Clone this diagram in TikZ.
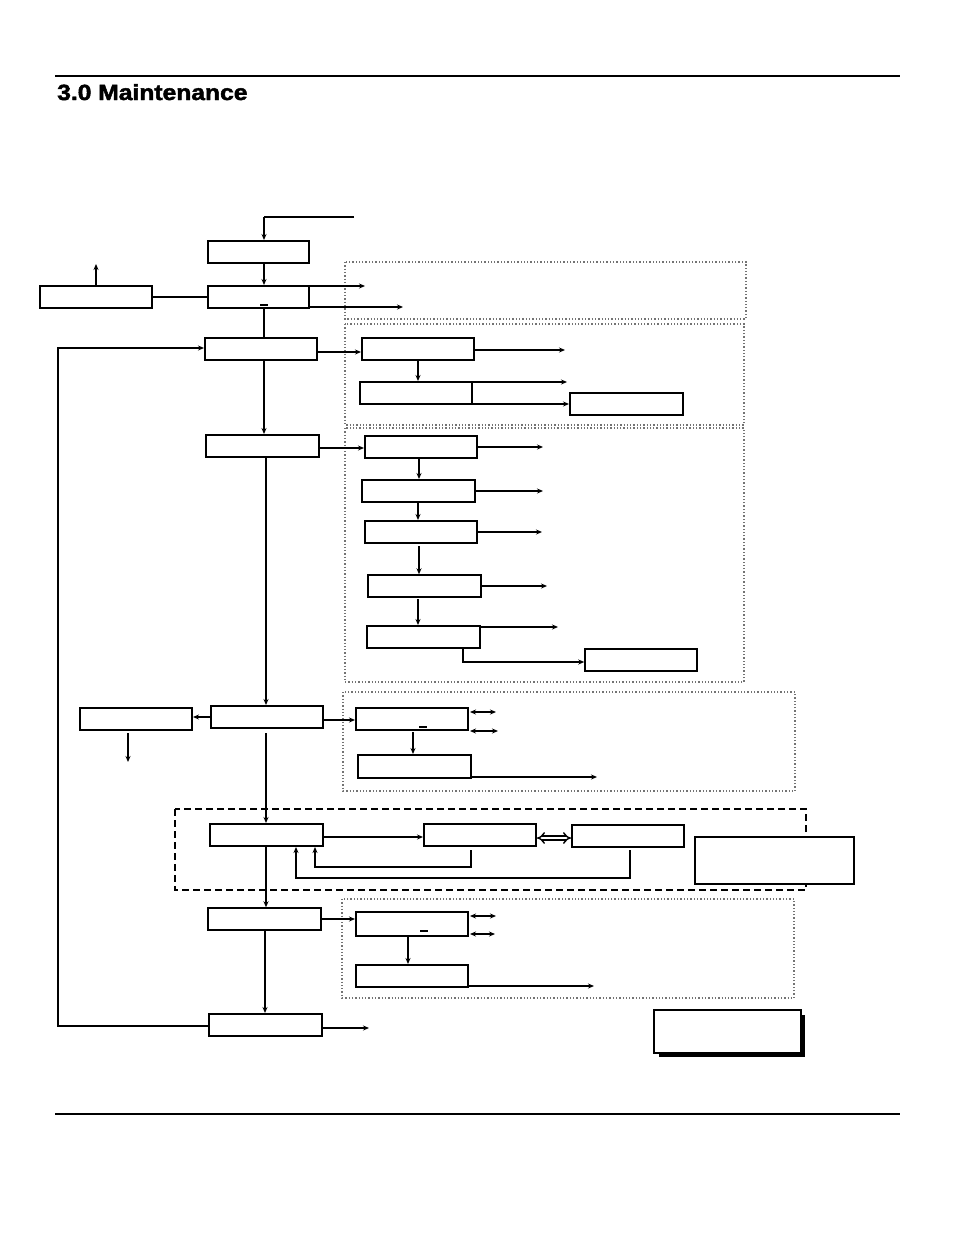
\documentclass[tikz,border=0pt]{standalone}
\usepackage{fontspec}
\setmainfont{Liberation Sans}
\newfontfamily\titlefont[FakeBold=2]{Liberation Sans Bold}
\usetikzlibrary{arrows.meta,fit}
\tikzset{
  box/.style={draw, line width=2pt, inner sep=0pt, fill=white},
  thinbox/.style={draw, line width=1.5pt, inner sep=0pt, fill=white},
  arr/.style={-{Stealth[length=6pt,width=5pt]}, line width=1.4pt},
  darr/.style={{Stealth[length=6pt,width=5pt]}-{Stealth[length=6pt,width=5pt]}, line width=1.4pt},
  plain/.style={line width=1.4pt},
  dotbox/.style={draw=black!55, dotted, line width=1.3pt},
  dashbox/.style={draw, dash pattern=on 7pt off 4pt, line width=1.6pt},
  rule/.style={line width=1.3pt},
}
\begin{document}
\begin{tikzpicture}[x=1pt,y=-1pt]
\useasboundingbox (0,0) rectangle (954,1235);
% header / footer rules
\draw[rule] (55,76) -- (900,76);
\draw[rule] (55,1114) -- (900,1114);
\node[anchor=base west, inner sep=0pt] (title) at (57,100)
  {\scalebox{1.12}[1]{\fontsize{22}{26}\selectfont\titlefont 3.0 Maintenance}};

% dotted / dashed group frames
\draw[dotbox] (345,262) rectangle (746,319);
\draw[dotbox] (345,324) rectangle (744,425);
\draw[dotbox] (345,428) rectangle (744,682);
\draw[dotbox] (343,692) rectangle (795,791);
\draw[dashbox] (175,809) rectangle (806,890);
\draw[dotbox] (342,899) rectangle (794,998);

% boxes
\node[box, fit={(208,241)(309,263)}] (A) {};
\node[box, fit={(208,286)(309,308)}] (B) {};
\node[box, fit={(40,286)(152,308)}] (L1) {};
\node[box, fit={(205,338)(317,360)}] (C) {};
\node[box, fit={(362,338)(474,360)}] (D1) {};
\node[box, fit={(360,382)(472,404)}] (D2) {};
\node[box, fit={(570,393)(683,415)}] (D3) {};
\node[box, fit={(206,435)(319,457)}] (E) {};
\node[box, fit={(365,436)(477,458)}] (F1) {};
\node[box, fit={(362,480)(475,502)}] (F2) {};
\node[box, fit={(365,521)(477,543)}] (F3) {};
\node[thinbox, fit={(368,575)(481,597)}] (F4) {};
\node[box, fit={(367,626)(480,648)}] (F5) {};
\node[thinbox, fit={(585,649)(697,671)}] (F6) {};
\node[box, fit={(211,706)(323,728)}] (G) {};
\node[box, fit={(80,708)(192,730)}] (L2) {};
\node[box, fit={(356,708)(468,730)}] (H1) {};
\node[box, fit={(358,755)(471,778)}] (H2) {};
\node[box, fit={(210,824)(323,846)}] (I) {};
\node[box, fit={(424,824)(536,846)}] (J) {};
\node[box, fit={(572,825)(684,847)}] (K) {};
\node[box, fit={(695,837)(854,884)}] (M) {};
\node[thinbox, fit={(208,908)(321,930)}] (N) {};
\node[box, fit={(356,912)(468,936)}] (O1) {};
\node[box, fit={(356,965)(468,987)}] (O2) {};
\node[box, fit={(209,1014)(322,1036)}] (P) {};
\fill (659,1015) rectangle (805,1057);
\node[box, fit={(654,1010)(801,1053)}] (Q) {};

% small underscores inside boxes
\draw[line width=1.4pt] (260,305) -- (268,305);
\draw[line width=1.4pt] (419,727) -- (427,727);
\draw[line width=1.4pt] (420,931) -- (428,931);

% free ends
\coordinate (in) at (354,217);
\coordinate (l1up) at (96,264);
\coordinate (b1) at (365,286);
\coordinate (b2) at (403,307);
\coordinate (d1r) at (565,350);
\coordinate (d2r) at (567,382);
\coordinate (f1r) at (543,447);
\coordinate (f2r) at (543,491);
\coordinate (f3r) at (542,532);
\coordinate (f4r) at (547,586);
\coordinate (f5r) at (558,627);
\coordinate (l2d) at (128,762);
\coordinate (h1a) at (496,712);
\coordinate (h1b) at (498,731);
\coordinate (h2r) at (597,777);
\coordinate (o1a) at (496,916);
\coordinate (o1b) at (495,934);
\coordinate (o2r) at (594,986);
\coordinate (pr) at (369,1028);
\coordinate (loopx) at (58,0);

% top chain
\draw[plain] (in) -- (264,217);
\draw[arr] (264,217) -- (A.north -| 264,0);
\draw[arr] (A.south -| 264,0) -- (B.north -| 264,0);
\draw[plain] (L1.east) -- (B.west |- L1.east);
\draw[arr] (L1.north -| 96,0) -- (l1up);
\draw[arr] (B.east |- b1) -- (b1);
\draw[arr] (B.east |- b2) -- (b2);
\draw[plain] (B.south -| 264,0) -- (C.north -| 264,0);

% C group
\draw[arr] (C.east |- 0,352) -- (D1.west |- 0,352);
\draw[arr] (D1.east |- d1r) -- (d1r);
\draw[arr] (D1.south -| 418,0) -- (D2.north -| 418,0);
\draw[arr] (D2.east |- d2r) -- (d2r);
\draw[arr] (D2.east |- 0,404) -- (D3.west |- 0,404);
\draw[arr] (C.south -| 264,0) -- (E.north -| 264,0);

% E group
\draw[arr] (E.east |- 0,448) -- (F1.west |- 0,448);
\draw[arr] (F1.east |- f1r) -- (f1r);
\draw[arr] (F1.south -| 419,0) -- (F2.north -| 419,0);
\draw[arr] (F2.east |- f2r) -- (f2r);
\draw[arr] (F2.south -| 418,0) -- (F3.north -| 418,0);
\draw[arr] (F3.east |- f3r) -- (f3r);
\draw[arr] (419,546) -- (F4.north -| 419,0);
\draw[arr] (F4.east |- f4r) -- (f4r);
\draw[arr] (418,599) -- (F5.north -| 418,0);
\draw[arr] (F5.east |- f5r) -- (f5r);
\draw[arr] (F5.south -| 463,0) |- (F6.west |- 0,662);
\draw[arr] (E.south -| 266,0) -- (G.north -| 266,0);

% G group
\draw[arr] (G.west |- 0,717) -- (L2.east |- 0,717);
\draw[arr] (128,733) -- (l2d);
\draw[arr] (G.east |- 0,720) -- (H1.west |- 0,720);
\draw[darr] (470,712) -- (h1a);
\draw[darr] (470,731) -- (h1b);
\draw[arr] (413,732) -- (H2.north -| 413,0);
\draw[arr] (H2.east |- h2r) -- (h2r);
\draw[arr] (266,733) -- (I.north -| 266,0);

% I group (dashed)
\draw[arr] (I.east |- 0,837) -- (J.west |- 0,837);
\draw[{Implies}-{Implies}, double, double distance=2.5pt, line width=1.4pt] (J.east |- 0,838) -- (K.west |- 0,838);
\draw[arr] (471,850) |- (315,867) -- (I.south -| 315,0);
\draw[arr] (630,850) |- (296,878) -- (I.south -| 296,0);
\draw[arr] (I.south -| 266,0) -- (N.north -| 266,0);

% N group
\draw[arr] (N.east |- 0,919) -- (O1.west |- 0,919);
\draw[darr] (470,916) -- (o1a);
\draw[darr] (470,934) -- (o1b);
\draw[arr] (O1.south -| 408,0) -- (O2.north -| 408,0);
\draw[arr] (O2.east |- o2r) -- (o2r);
\draw[arr] (N.south -| 265,0) -- (P.north -| 265,0);

% P
\draw[arr] (P.east |- pr) -- (pr);
\draw[arr] (P.west |- 0,1026) -| (loopx |- 0,348) -- (C.west |- 0,348);
\end{tikzpicture}
\end{document}
